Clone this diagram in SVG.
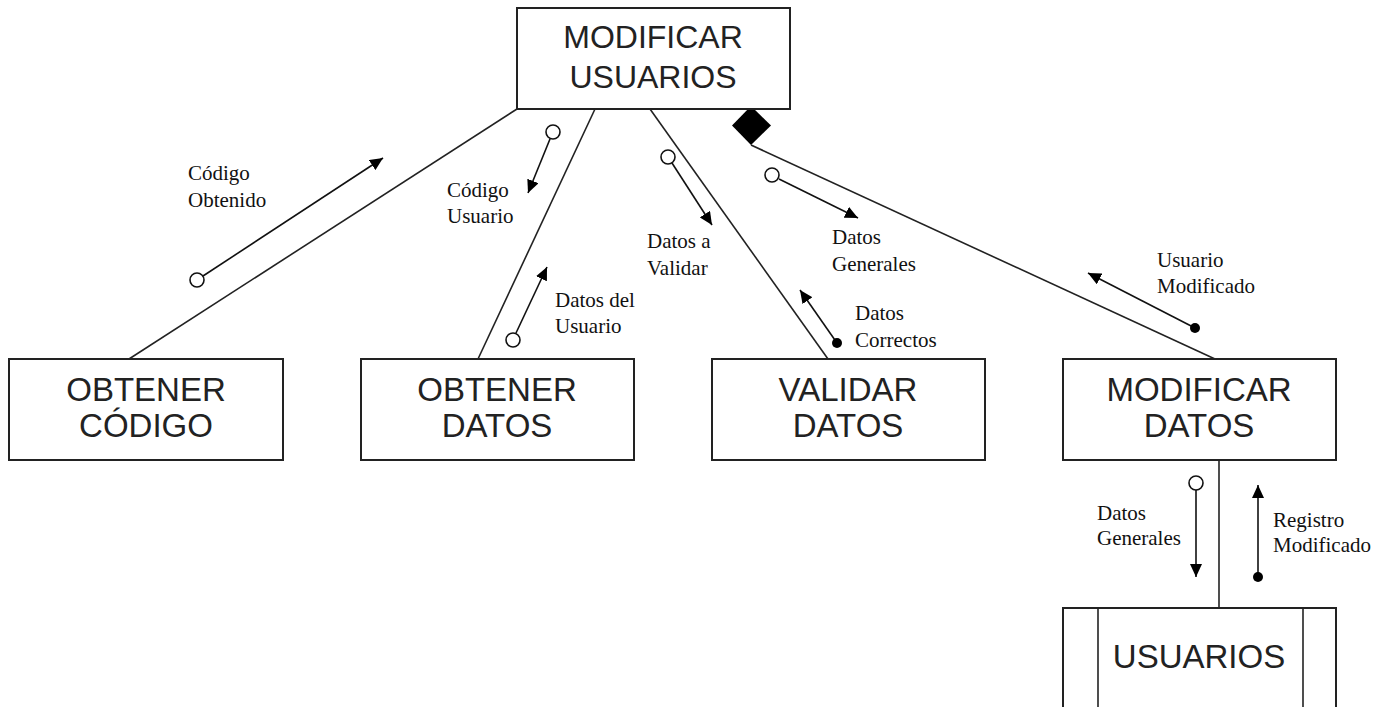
<svg xmlns="http://www.w3.org/2000/svg" width="1387" height="707" viewBox="0 0 1387 707">
<style>
.box{fill:#fff;stroke:#222;stroke-width:2}
.t{font-family:"Liberation Sans",Arial,sans-serif;font-size:33px;fill:#222;text-anchor:middle}
.tt{font-family:"Liberation Sans",Arial,sans-serif;font-size:32px;fill:#222;text-anchor:middle}
.ln{stroke:#222;stroke-width:1.6;fill:none}
.fl{stroke:#111;stroke-width:1.6;fill:none;marker-end:url(#arr)}
.oc{fill:#fff;stroke:#111;stroke-width:1.6}
.dc{fill:#000}
.lb{font-family:"Liberation Serif","Times New Roman",serif;font-size:21px;fill:#111}
</style>
<defs>
<marker id="arr" viewBox="0 0 13 12" refX="13" refY="6" markerWidth="13" markerHeight="12" markerUnits="userSpaceOnUse" orient="auto">
<path d="M0,0 L13,6 L0,12 z" fill="#000"/>
</marker>
</defs>
<rect width="1387" height="707" fill="#fff"/>
<g id="connectors">
<line class="ln" x1="517" y1="109" x2="129" y2="359"/>
<line class="ln" x1="595" y1="109" x2="478" y2="359"/>
<line class="ln" x1="650" y1="109" x2="828" y2="359"/>
<line class="ln" x1="751" y1="145" x2="1215" y2="359"/>
<polygon points="751,106 771,125.5 751,145 732,125.5" fill="#000"/>
<line class="ln" x1="1219" y1="460" x2="1219" y2="608"/>
<line class="fl" x1="203" y1="276" x2="383" y2="158"/>
<circle class="oc" cx="197" cy="280" r="7"/>
<line class="fl" x1="550" y1="139" x2="528" y2="193"/>
<circle class="oc" cx="553" cy="132" r="7"/>
<line class="fl" x1="516" y1="333" x2="547" y2="267"/>
<circle class="oc" cx="513" cy="340" r="7"/>
<line class="fl" x1="672" y1="163" x2="712" y2="225"/>
<circle class="oc" cx="668" cy="157" r="7"/>
<line class="fl" x1="837" y1="343" x2="800" y2="290"/>
<circle class="dc" cx="837" cy="343" r="5"/>
<line class="fl" x1="779" y1="179" x2="858" y2="218"/>
<circle class="oc" cx="772" cy="175" r="7"/>
<line class="fl" x1="1195" y1="328" x2="1088" y2="273"/>
<circle class="dc" cx="1195" cy="328" r="5"/>
<line class="fl" x1="1196" y1="490" x2="1196" y2="577"/>
<circle class="oc" cx="1196" cy="483" r="7"/>
<line class="fl" x1="1258" y1="577" x2="1258" y2="485"/>
<circle class="dc" cx="1258" cy="577" r="5"/>
</g>
<g id="labels">
<text class="lb" x="188" y="180">Código</text>
<text class="lb" x="188" y="207">Obtenido</text>
<text class="lb" x="447" y="197">Código</text>
<text class="lb" x="447" y="223">Usuario</text>
<text class="lb" x="555" y="307">Datos del</text>
<text class="lb" x="555" y="333">Usuario</text>
<text class="lb" x="647" y="248">Datos a</text>
<text class="lb" x="647" y="275">Validar</text>
<text class="lb" x="832" y="244">Datos</text>
<text class="lb" x="832" y="271">Generales</text>
<text class="lb" x="855" y="320">Datos</text>
<text class="lb" x="855" y="347">Correctos</text>
<text class="lb" x="1157" y="267">Usuario</text>
<text class="lb" x="1157" y="293">Modificado</text>
<text class="lb" x="1097" y="520">Datos</text>
<text class="lb" x="1097" y="545">Generales</text>
<text class="lb" x="1273" y="527">Registro</text>
<text class="lb" x="1273" y="552">Modificado</text>
</g>
<g id="modificar-usuarios">
<rect class="box" x="517" y="8" width="273" height="101"/>
<text class="tt" x="653" y="48">MODIFICAR</text>
<text class="tt" x="653" y="88">USUARIOS</text>
</g>
<g id="obtener-codigo">
<rect class="box" x="9" y="359" width="274" height="101"/>
<text class="t" x="146" y="401">OBTENER</text>
<text class="t" x="146" y="437">CÓDIGO</text>
</g>
<g id="obtener-datos">
<rect class="box" x="361" y="359" width="273" height="101"/>
<text class="t" x="497" y="401">OBTENER</text>
<text class="t" x="497" y="437">DATOS</text>
</g>
<g id="validar-datos">
<rect class="box" x="712" y="359" width="273" height="101"/>
<text class="t" x="848" y="401">VALIDAR</text>
<text class="t" x="848" y="437">DATOS</text>
</g>
<g id="modificar-datos">
<rect class="box" x="1063" y="359" width="273" height="101"/>
<text class="t" x="1199" y="401">MODIFICAR</text>
<text class="t" x="1199" y="437">DATOS</text>
</g>
<g id="usuarios">
<rect class="box" x="1063" y="608" width="273" height="110"/>
<line class="ln" x1="1098" y1="608" x2="1098" y2="707" stroke-width="2"/>
<line class="ln" x1="1303" y1="608" x2="1303" y2="707" stroke-width="2"/>
<text class="t" x="1199" y="668">USUARIOS</text>
</g>
</svg>
